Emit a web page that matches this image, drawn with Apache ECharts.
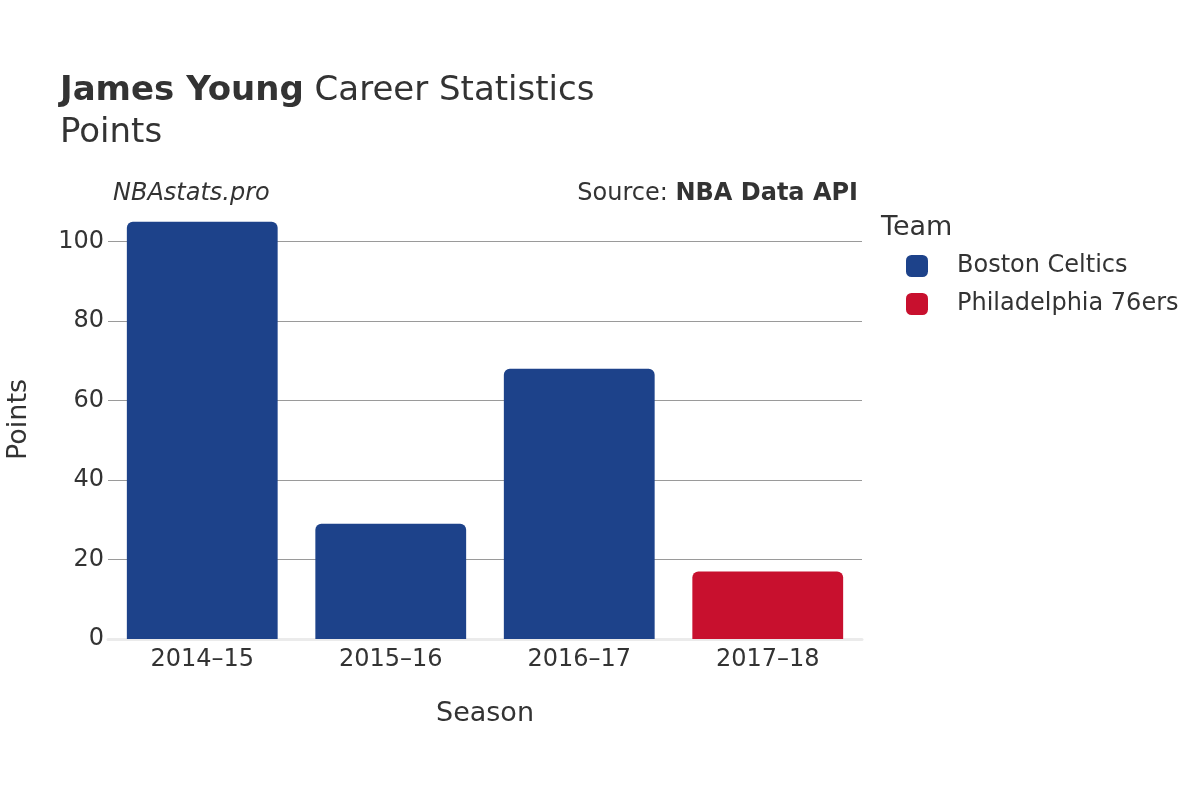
<!DOCTYPE html>
<html>
<head>
<meta charset="utf-8">
<script src="https://cdn.jsdelivr.net/npm/echarts@6/dist/echarts.min.js"></script>
<style>html,body{margin:0;padding:0;background:#fff}#c{width:1200px;height:800px}</style>
</head>
<body>
<div id="c"></div>
<script>
const seasons = ['2014–15', '2015–16', '2016–17', '2017–18'];
const bostonPoints = [105, 29, 68, '-'];
const phillyPoints = ['-', '-', '-', 17];
const yTicks = [0, 20, 40, 60, 80, 100];
const yMax = 110.5;
const teams = ['Boston Celtics', 'Philadelphia 76ers'];

const FONT = 'DejaVu Sans';
const chart = echarts.init(document.getElementById('c'));
chart.setOption({
  animation: false,
  textStyle: { fontFamily: FONT },
  grid: { left: 108, right: 338, top: 200, bottom: 161, containLabel: false, outerBoundsMode: 'none' },
  graphic: [
    { type: 'text', left: 60, top: 74, style: {
        text: '{b|James Young} Career Statistics', fontFamily: FONT, fontSize: 34, fill: '#333',
        rich: { b: { fontWeight: 'bold', fontSize: 34, fontFamily: FONT, fill: '#333' } } } },
    { type: 'text', left: 60, top: 116, style: { text: 'Points', fontFamily: FONT, fontSize: 34, fill: '#333' } },
    { type: 'text', left: 113, top: 182, style: { text: 'NBAstats.pro', fontFamily: FONT, fontSize: 24, fontStyle: 'italic', fill: '#333' } },
    { type: 'text', right: 342, top: 182, style: {
        text: 'Source: {b|NBA Data API}', fontFamily: FONT, fontSize: 24, fill: '#333',
        rich: { b: { fontWeight: 'bold', fontSize: 24, fontFamily: FONT, fill: '#333' } } } },
    { type: 'text', left: 881, top: 214, style: { text: 'Team', fontFamily: FONT, fontSize: 27, fill: '#333' } }
  ],
  legend: {
    data: teams, orient: 'vertical', left: 901, top: 249, itemWidth: 22, itemHeight: 22, itemGap: 14,
    icon: 'roundRect',
    textStyle: { fontFamily: FONT, fontSize: 24, color: '#333', padding: [0, 0, 0, 24] }
  },
  xAxis: {
    type: 'category', data: seasons,
    name: 'Season', nameLocation: 'middle', nameGap: 61,
    nameTextStyle: { fontFamily: FONT, fontSize: 27, color: '#333' },
    axisLine: { show: true, lineStyle: { color: '#ebebeb', width: 3 } },
    axisTick: { show: false },
    axisLabel: { fontFamily: FONT, fontSize: 24, color: '#333', margin: 9 }
  },
  yAxis: {
    type: 'value', min: 0, max: yMax, interval: 20,
    name: 'Points', nameLocation: 'middle', nameGap: 76,
    nameTextStyle: { fontFamily: FONT, fontSize: 27, color: '#333' },
    axisLine: { show: false }, axisTick: { show: false },
    axisLabel: { fontFamily: FONT, fontSize: 24, color: '#333', margin: 4, showMaxLabel: false,
      formatter: v => (yTicks.indexOf(v) >= 0 ? String(v) : '') },
    splitLine: { show: true, lineStyle: { color: ['rgba(0,0,0,0)', '#9a9a9a', '#9a9a9a', '#9a9a9a', '#9a9a9a', '#9a9a9a', 'rgba(0,0,0,0)'], width: 1 } }
  },
  series: [
    { name: teams[0], type: 'bar', stack: 'all', data: bostonPoints, barCategoryGap: '20%',
      itemStyle: { color: '#1d428a', borderRadius: [6, 6, 0, 0] } },
    { name: teams[1], type: 'bar', stack: 'all', data: phillyPoints, barCategoryGap: '20%',
      itemStyle: { color: '#c8102e', borderRadius: [6, 6, 0, 0] } }
  ]
});
</script>
</body>
</html>
